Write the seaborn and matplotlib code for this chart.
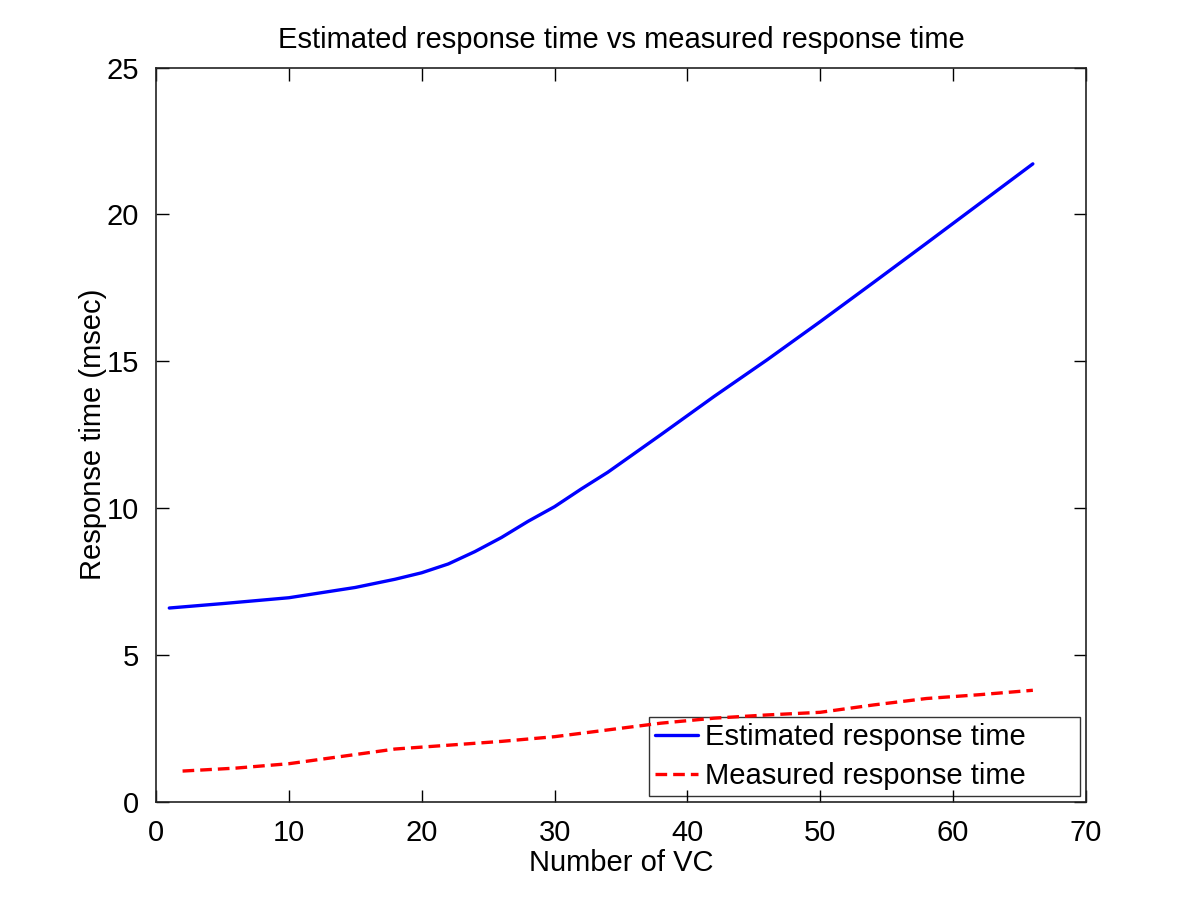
import pandas as pd
import seaborn as sns
import matplotlib.pyplot as plt

# values
est_vc = [1, 5, 10, 15, 18, 20, 22, 24, 26, 28, 30, 32, 34, 38, 42, 46, 50, 54, 58, 62, 66]
est_time = [6.60, 6.75, 6.95, 7.30, 7.58, 7.80, 8.10, 8.52, 9.00, 9.55, 10.05, 10.65,
            11.22, 12.50, 13.80, 15.05, 16.35, 17.68, 19.02, 20.37, 21.72]

meas_vc = [2, 6, 10, 14, 18, 22, 26, 30, 34, 38, 42, 46, 50, 54, 58, 62, 66]
meas_time = [1.05, 1.15, 1.30, 1.55, 1.80, 1.93, 2.06, 2.22, 2.45, 2.68, 2.85,
             2.96, 3.05, 3.30, 3.52, 3.65, 3.80]

est_df = pd.DataFrame({'vc': est_vc, 'time': est_time})
meas_df = pd.DataFrame({'vc': meas_vc, 'time': meas_time})

sns.set_theme(style='white')
plt.rcParams['font.family'] = ['Liberation Sans', 'DejaVu Sans']
plt.rcParams['xtick.direction'] = 'in'
plt.rcParams['ytick.direction'] = 'in'
plt.rcParams['text.color'] = 'black'
plt.rcParams['axes.labelcolor'] = 'black'
plt.rcParams['xtick.color'] = 'black'
plt.rcParams['ytick.color'] = 'black'

fig = plt.figure(figsize=(12, 9), dpi=100)
ax = fig.add_axes([0.13, 0.109, 0.775, 0.816])

sns.lineplot(data=est_df, x='vc', y='time', ax=ax, color='#0000ff', linewidth=2.4,
             label='Estimated response time')
sns.lineplot(data=meas_df, x='vc', y='time', ax=ax, color='#ff0000', linewidth=2.4,
             linestyle=(0, (3.5, 1.8)), label='Measured response time')

ax.set_xlim(0, 70)
ax.set_ylim(0, 25)
ax.set_xticks(range(0, 71, 10))
ax.set_yticks(range(0, 26, 5))
ax.tick_params(axis='both', labelsize=21, length=9, width=1,
               top=True, right=True, bottom=True, left=True, pad=12)
for s in ax.spines.values():
    s.set_color('#222222')
    s.set_linewidth(1.2)

ax.set_xlabel('Number of VC', fontsize=21, labelpad=2)
ax.set_ylabel('Response time (msec)', fontsize=21, labelpad=0)
ax.set_title('Estimated response time vs measured response time', fontsize=21, pad=14)

leg = ax.legend(loc='lower right', fontsize=21, fancybox=False, frameon=True,
                edgecolor='black', facecolor='none', borderaxespad=0.2,
                handlelength=1.45, handletextpad=0.25, labelspacing=0.38,
                borderpad=0.2)
leg.get_frame().set_linewidth(1.0)
leg.set_zorder(1)
for t in leg.get_texts():
    t.set_text(t.get_text() + '      ')

fig.savefig('out.png', dpi=100)
